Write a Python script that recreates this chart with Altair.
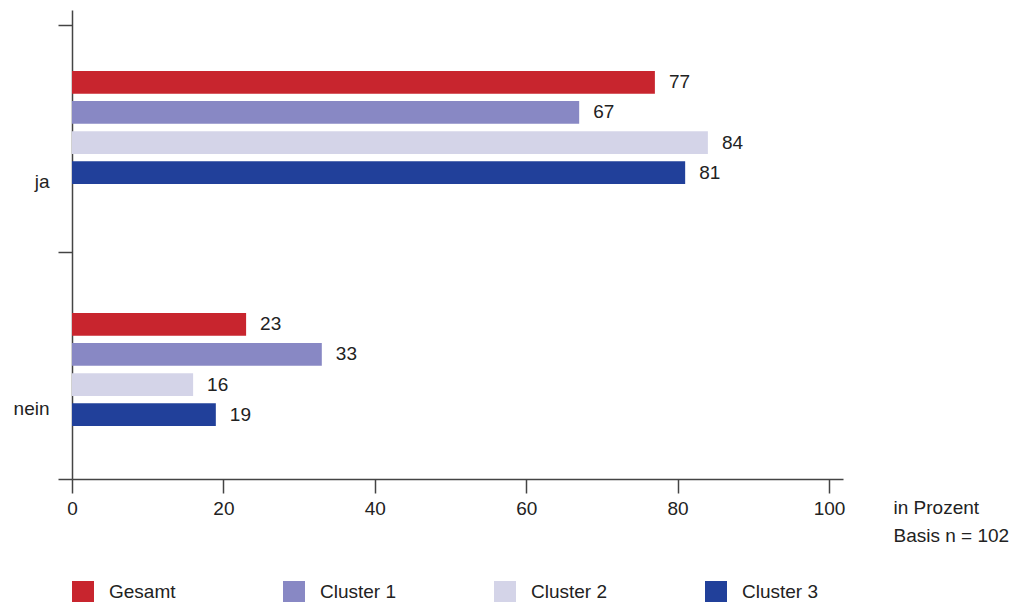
import altair as alt
import pandas as pd

categories = ["ja", "nein"]
series = ["Gesamt", "Cluster 1", "Cluster 2", "Cluster 3"]
colors = ["#C8252E", "#8888C4", "#D4D4E8", "#21409A"]
values_ja = [77, 67, 84, 81]
values_nein = [23, 33, 16, 19]
x_ticks = [0, 20, 40, 60, 80, 100]

rows = []
for s, v in zip(series, values_ja):
    rows.append({"antwort": "ja", "serie": s, "wert": v})
for s, v in zip(series, values_nein):
    rows.append({"antwort": "nein", "serie": s, "wert": v})
df = pd.DataFrame(rows)
cat_df = pd.DataFrame({"antwort": categories})

FONT = "Liberation Sans"
FS = 19
TXT = "#222222"
AX = "#444444"

# scale used for the bars (group position)
bar_y_scale = alt.Scale(paddingInner=0.533, paddingOuter=0.2355, align=0.535)
yoff_enc = alt.YOffset(
    "serie:N",
    sort=series,
    scale=alt.Scale(range=[0, 113], paddingInner=0.246, paddingOuter=0),
)
x_enc = alt.X(
    "wert:Q",
    scale=alt.Scale(domain=[0, 101.85], nice=False),
    axis=alt.Axis(
        title=["in Prozent", "Basis n = 102"],
        titleX=821,
        titleY=19,
        titleAlign="left",
        titleBaseline="top",
        titleAnchor="start",
        titleFontWeight="normal",
        titleFontSize=FS,
        titleFont=FONT,
        titleColor=TXT,
        titleLineHeight=28,
        titleAngle=0,
        values=x_ticks,
        tickSize=14,
        labelPadding=6,
        labelFlush=False,
        labelFontSize=FS,
        labelFont=FONT,
        labelColor=TXT,
        domainColor=AX,
        tickColor=AX,
        domainWidth=1.5,
        tickWidth=1.5,
        grid=False,
    ),
)

color_enc = alt.Color(
    "serie:N",
    sort=series,
    scale=alt.Scale(domain=series, range=colors),
    legend=alt.Legend(
        title=None,
        orient="none",
        legendX=0,
        legendY=571,
        direction="horizontal",
        columns=4,
        gridAlign="all",
        columnPadding=97,
        symbolType="square",
        symbolSize=484,
        symbolStrokeWidth=0,
        symbolOpacity=1,
        labelOffset=15,
        labelFontSize=FS,
        labelFont=FONT,
        labelColor=TXT,
        padding=0,
    ),
)

bars = alt.Chart(df).mark_bar().encode(
    x=x_enc,
    y=alt.Y("antwort:N", sort=categories, scale=bar_y_scale, axis=None),
    yOffset=yoff_enc,
    color=color_enc,
)

labels = alt.Chart(df).mark_text(
    align="left", baseline="middle", dx=14, fontSize=FS, font=FONT, color=TXT
).encode(
    x=alt.X("wert:Q"),
    y=alt.Y("antwort:N", sort=categories),
    yOffset=alt.YOffset("serie:N", sort=series),
    text=alt.Text("wert:Q"),
)

# category axis (ticks at band boundaries, labels shifted down)
axis_layer = alt.Chart(cat_df).mark_point(opacity=0).encode(
    y=alt.Y(
        "antwort:N",
        sort=categories,
        scale=alt.Scale(paddingInner=0, paddingOuter=0.033, align=1),
        axis=alt.Axis(
            title=None,
            orient="left",
            tickBand="extent",
            tickSize=14,
            labelPadding=9,
            labelOffset=43,
            labelFontSize=FS,
            labelFont=FONT,
            labelColor=TXT,
            domainColor=AX,
            tickColor=AX,
            domainWidth=1.5,
            tickWidth=1.5,
        ),
    ),
)

chart = (
    alt.layer(alt.layer(bars, labels), axis_layer)
    .resolve_scale(y="independent")
    .properties(
        width=771,
        height=469,
        autosize=alt.AutoSizeParams(type="none"),
        padding={"left": 72, "top": 10, "right": 174, "bottom": 123},
        background="white",
    )
    .configure_view(stroke=None)
)

chart.save("out.html", embed_options={"renderer": "svg", "actions": False})
